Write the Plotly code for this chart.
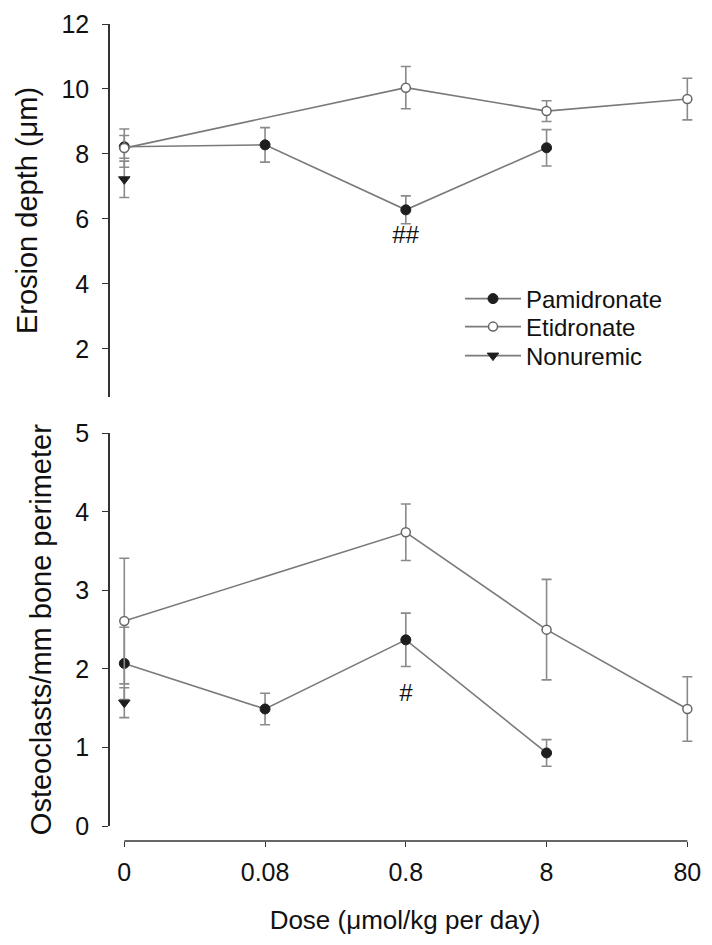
import plotly.graph_objects as go

# ---------------- data ----------------
dose_labels = ["0", "0.08", "0.8", "8", "80"]

# Erosion depth (µm)
pam_dose = ["0", "0.08", "0.8", "8"]
pam_erosion = [8.22, 8.28, 6.28, 8.19]
pam_erosion_err = [0.35, 0.53, 0.43, 0.56]

eti_dose = ["0", "0.8", "8", "80"]
eti_erosion = [8.18, 10.04, 9.32, 9.69]
eti_erosion_err = [0.59, 0.65, 0.32, 0.64]

non_dose = ["0"]
non_erosion = [7.22]
non_erosion_err = [0.56]

# Osteoclasts / mm bone perimeter
pam_ocl = [2.07, 1.49, 2.37, 0.93]
pam_ocl_err = [0.46, 0.20, 0.34, 0.17]

eti_ocl = [2.61, 3.74, 2.50, 1.49]
eti_ocl_err = [0.80, 0.36, 0.64, 0.41]

non_ocl = [1.57]
non_ocl_err = [0.19]

# ---------------- style ----------------
FONT = "Liberation Sans, Arial, Helvetica, sans-serif"
LINE_C = "#7a7a7a"
ERR_C = "#8a8a8a"
DARK = "#1e1e1e"
AXIS_C = "#333333"

def err(vals):
    return dict(type="data", array=vals, visible=True, color=ERR_C,
                thickness=1.6, width=5)

fig = go.Figure()

series = [
    ("Pamidronate", "legend", pam_dose, pam_erosion, pam_erosion_err, pam_ocl, pam_ocl_err,
     dict(symbol="circle", size=10, color=DARK, line=dict(color=DARK, width=1))),
    ("Etidronate", "legend2", eti_dose, eti_erosion, eti_erosion_err, eti_ocl, eti_ocl_err,
     dict(symbol="circle", size=9, color="white", line=dict(color="#666666", width=1.5))),
    ("Nonuremic", "legend3", non_dose, non_erosion, non_erosion_err, non_ocl, non_ocl_err,
     dict(symbol="triangle-down", size=10, color=DARK, line=dict(color=DARK, width=1))),
]

for name, leg, xs, y1, e1, y2, e2, mk in series:
    fig.add_trace(go.Scatter(
        x=xs, y=y1, error_y=err(e1), mode="lines+markers", name=name,
        line=dict(color=LINE_C, width=1.6), marker=mk, legend=leg,
        xaxis="x", yaxis="y", legendgroup=name, showlegend=True, cliponaxis=False))
    fig.add_trace(go.Scatter(
        x=xs, y=y2, error_y=err(e2), mode="lines+markers", name=name,
        line=dict(color=LINE_C, width=1.6), marker=mk, legend=leg,
        xaxis="x", yaxis="y2", legendgroup=name, showlegend=False, cliponaxis=False))

axis_common = dict(showline=True, linecolor=AXIS_C, linewidth=1.5,
                   ticks="outside", ticklen=6, tickwidth=1.2, tickcolor=AXIS_C,
                   showgrid=False, zeroline=False, automargin=False,
                   tickfont=dict(family=FONT, size=25, color="#111111"),
                   ticklabelstandoff=8)

# The page body has an 8px margin, so the figure is 8px smaller than the window.
# Screen-pixel layout: plot left 110, right 700, top 24, bottom 841
OFF = 8
W, H = 712 - OFF, 945 - OFF
L_S, R_S, TOP_S, BOT_S = 110, 700, 24, 841

def py(pix):
    return (BOT_S - pix) / (BOT_S - TOP_S)

def legend_at(ycenter):
    return dict(x=(460 - L_S) / (R_S - L_S), y=py(ycenter), xanchor="left", yanchor="middle",
                bgcolor="rgba(0,0,0,0)", itemwidth=56,
                font=dict(family=FONT, size=24, color="#111111"))

fig.update_layout(
    width=W, height=H,
    margin=dict(l=L_S - OFF, r=712 - R_S, t=TOP_S - OFF, b=945 - BOT_S, autoexpand=False),
    paper_bgcolor="white", plot_bgcolor="white",
    font=dict(family=FONT, color="#111111"),
    xaxis=dict(type="category", categoryorder="array", categoryarray=dose_labels,
               range=[-0.1016, 4.09], anchor="free", position=0, automargin=False,
               showline=False, showgrid=False, zeroline=False,
               ticks="outside", ticklen=5, tickwidth=1.2, tickcolor=AXIS_C,
               ticklabelstandoff=4,
               tickfont=dict(family=FONT, size=25, color="#111111"),
               title=dict(text="Dose (μmol/kg per day)", standoff=25,
                          font=dict(family=FONT, size=26, color="#111111"))),
    yaxis=dict(domain=[py(397), 1.0], range=[0.52, 12], tickvals=[2, 4, 6, 8, 10, 12],
               title=dict(text="Erosion depth (μm)", standoff=15,
                          font=dict(family=FONT, size=29, color="#111111")),
               **axis_common),
    yaxis2=dict(domain=[py(826), py(433.3)], range=[0, 5], tickvals=[0, 1, 2, 3, 4, 5],
                anchor="x",
                title=dict(text="Osteoclasts/mm bone perimeter", standoff=15,
                           font=dict(family=FONT, size=29, color="#111111")),
                **axis_common),
    legend=legend_at(299),
    legend2=legend_at(327),
    legend3=legend_at(356),
    showlegend=True,
)

# x axis line spanning the first to last dose only
fig.add_shape(type="line", xref="x", yref="paper", x0=0, x1=len(dose_labels) - 1,
              y0=0, y1=0, line=dict(color=AXIS_C, width=1.5))

# significance marks
idx08 = dose_labels.index("0.8")
fig.add_annotation(x=idx08, y=5.51, xref="x", yref="y", text="<i>##</i>",
                   showarrow=False, font=dict(family=FONT, size=24, color="#111111"))
fig.add_annotation(x=idx08, y=1.70, xref="x", yref="y2", text="<i>#</i>",
                   showarrow=False, font=dict(family=FONT, size=24, color="#111111"))

fig.write_html("out.html")
